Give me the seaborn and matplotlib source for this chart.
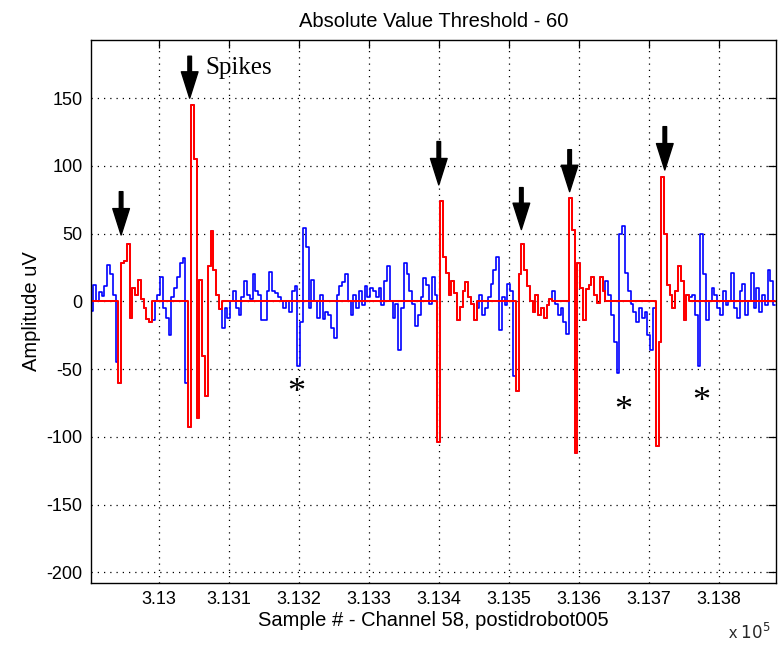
import numpy as np
import pandas as pd
import matplotlib
matplotlib.use("Agg")
import matplotlib.pyplot as plt
import seaborn as sns

# ---------------- data ----------------
start_sample = 312904
sample_step = 4
amplitude_uv = [
    -7, 12, 0, 7, 4, 11, 27, 20, 5, -45,
    -60, 28, 30, 42, -12, 10, 5, 16, 2, -5,
    -13, -15, -14, 0, 5, 18, -5, -12, -25, 3,
    10, 18, 28, 32, -60, -93, 145, 105, -86, 16,
    -40, -70, 26, 52, 23, 5, -6, -20, -5, -12,
    0, 8, -5, -10, 3, 15, 5, 2, 20, 8,
    5, -14, -14, 8, 22, 8, 6, 3, 0, -5,
    0, -8, 8, 11, -48, -15, 54, 40, -5, 16,
    0, -12, 5, -13, -8, -10, -20, -27, 5, 11,
    14, 20, 0, -10, 5, -5, 8, -3, 11, 3,
    10, 8, 3, 10, -3, 15, 26, 0, -12, -2,
    -36, -5, 28, 20, 8, -2, -18, -10, 3, 17,
    12, -2, 18, 5, -104, 74, 33, 21, 5, 15,
    6, -14, -4, 8, 14, 3, -2, -14, -5, 5,
    -10, -5, 3, 13, 23, 33, -21, 3, -3, 13,
    8, -55, -66, 20, 42, 23, 11, 0, -8, 5,
    -10, -5, -12, -3, 2, 8, -2, -10, -5, -15,
    -24, 76, 53, -112, 28, 10, -14, 9, 12, 18,
    5, -1, 18, 8, 15, 5, -10, -30, -53, 50,
    56, 21, 8, -2, -8, -15, -5, -12, -8, -25,
    -36, -5, -107, -30, 92, 50, 12, 5, -5, 8,
    26, 15, -14, 5, 3, 5, -10, -48, 50, 20,
    -14, 0, 10, 5, -5, -10, 8, -3, 0, 21,
    -5, -12, 8, 13, -10, 0, 21, -5, 10, -8,
    5, -3, 23, 15, -3,
]
# detected spike windows (sample numbers, inclusive)
spike_start = [312944, 313044, 313400, 313512, 313588, 313712]
spike_end = [312988, 313088, 313452, 313560, 313636, 313756]

# annotation arrows: x position, tip and tail amplitude
arrow_x = [312946, 313044, 313400, 313518, 313587, 313723]
arrow_tip = [49, 150, 86, 53, 81, 97]
arrow_tail = [81, 181, 118, 84, 112, 129]
star_x = [313196, 313663, 313775]
star_y = [-68, -81, -75]

x_ticks = [313000, 313100, 313200, 313300, 313400, 313500, 313600, 313700, 313800]
y_ticks = [-200, -150, -100, -50, 0, 50, 100, 150]

# ---------------- build series ----------------
samples = start_sample + sample_step * np.arange(len(amplitude_uv))
amp = np.array(amplitude_uv, dtype=float)
in_spike = np.zeros(len(samples), dtype=bool)
for s0, s1 in zip(spike_start, spike_end):
    in_spike |= (samples >= s0) & (samples <= s1)
thresholded = np.where(in_spike, amp, 0.0)

df = pd.DataFrame({"sample": samples, "raw": amp, "spike": thresholded})

# ---------------- plot ----------------
sns.set_theme(style="white")
plt.rcParams["font.family"] = ["Liberation Sans", "DejaVu Sans"]

fig = plt.figure(figsize=(7.78, 6.5), dpi=100)
ax = fig.add_axes([0.117, 0.103, 0.8805, 0.8355])

sns.lineplot(data=df, x="sample", y="raw", color=(0, 0, 1), linewidth=1.2,
             estimator=None, sort=False, drawstyle="steps-mid", ax=ax)
sns.lineplot(data=df, x="sample", y="spike", color=(1, 0, 0), linewidth=1.45,
             estimator=None, sort=False, drawstyle="steps-mid", ax=ax)

ax.set_xlim(312903, 313882)
ax.set_ylim(-208, 193)
ax.set_xticks(x_ticks)
ax.set_xticklabels([f"{t / 1e5:g}" for t in x_ticks])
ax.set_yticks(y_ticks)
ax.set_yticklabels([str(t) for t in y_ticks])

ax.grid(True, color="black", linestyle=(0, (1, 4)), linewidth=0.9)
for sp in ax.spines.values():
    sp.set_color("black")
    sp.set_linewidth(1.0)
ax.tick_params(direction="in", length=6, width=0.9, colors="black",
               top=True, right=True, labelsize=13, pad=6)

ax.set_title("Absolute Value Threshold - 60", fontsize=14.5, pad=9, color="black")
ax.set_xlabel("Sample # - Channel 58, postidrobot005", fontsize=14.5, color="black", labelpad=2)
ax.set_ylabel("Amplitude uV", fontsize=14.5, color="black", labelpad=4)

for xa, yt, yb in zip(arrow_x, arrow_tip, arrow_tail):
    ax.annotate("", xy=(xa, yt), xytext=(xa, yb),
                arrowprops=dict(facecolor="black", edgecolor="black",
                                width=2.6, headwidth=12, headlength=19, shrink=0))
ax.text(313066, 172, "Spikes", fontsize=18, family=["Liberation Serif"],
        ha="left", va="center", color="black")
for xs, ys in zip(star_x, star_y):
    ax.text(xs, ys, "*", fontsize=26, family=["Liberation Serif"],
            ha="center", va="center", color="black")

fig.text(0.936, 0.012, r"x $10^{5}$", fontsize=12, ha="left", va="bottom")

fig.savefig("out.png", dpi=100, facecolor="white")
